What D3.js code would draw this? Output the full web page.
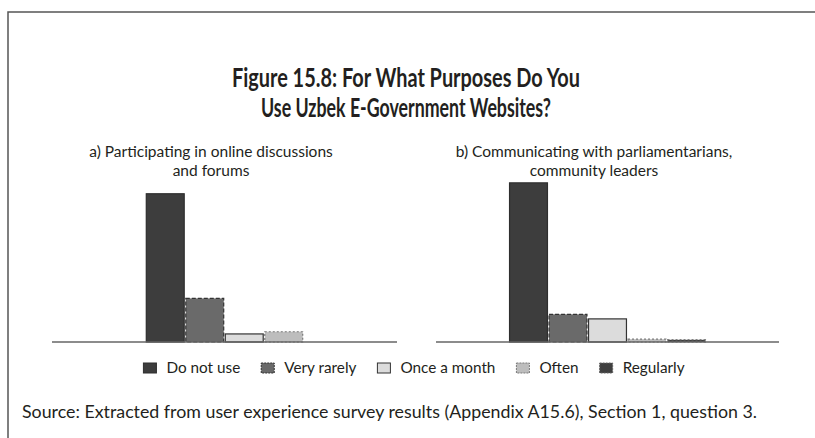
<!doctype html>
<html>
<head>
<meta charset="utf-8"/>
<style>
  html, body { margin: 0; padding: 0; background: #fff; }
  svg { display: block; }
  text { font-family: Lato, "Open Sans", sans-serif; fill: #231f20; }
</style>
<script src="https://d3js.org/d3.v7.min.js"></script>
</head>
<body>
<svg width="815" height="438"></svg>
<script>
  // categories / series
  var categories = ["Do not use", "Very rarely", "Once a month", "Often", "Regularly"];
  var panelTitles = [
    ["a) Participating in online discussions", "and forums"],
    ["b) Communicating with parliamentarians,", "community leaders"]
  ];
  // share of respondents (%)
  var valuesA = [68, 20, 3.7, 4.7];
  var valuesB = [73, 12.7, 10.6, 1.3, 1.0];

  var fills   = ["#3d3d3d", "#6a6a6a", "#dcdcdc", "#bdbdbd", "#3f3f3f"];
  var strokes = ["#2e2e2e", "#333333", "#333333", "#7a7a7a", "#666666"];
  var dashes  = [null, "4,2", null, "2,2", "2,2"];

  var svg = d3.select("svg");

  // frame
  svg.append("path")
      .attr("d", "M8,438V12H815")
      .attr("fill", "none")
      .attr("stroke", "#555")
      .attr("stroke-width", 1.5);

  // title
  var title = svg.append("g").attr("font-weight", "bold").attr("text-anchor", "middle");
  title.append("text").attr("x", 406).attr("y", 87).attr("font-size", 26)
      .attr("textLength", 348).attr("lengthAdjust", "spacingAndGlyphs")
      .text("Figure 15.8: For What Purposes Do You");
  title.append("text").attr("x", 406).attr("y", 117).attr("font-size", 26)
      .attr("textLength", 290).attr("lengthAdjust", "spacingAndGlyphs")
      .text("Use Uzbek E-Government Websites?");

  var y = d3.scaleLinear().domain([0, 100]).range([342, 124]);
  var step = 39.5;

  var panels = [
    {values: valuesA, range: [52, 397], labelX: 211, lines: panelTitles[0]},
    {values: valuesB, range: [436, 779], labelX: 594, lines: panelTitles[1]}
  ];

  panels.forEach(function(p) {
    var g = svg.append("g");
    var cats = categories.slice(0, p.values.length);
    var center = (p.range[0] + p.range[1]) / 2;
    var x = d3.scaleBand().domain(cats)
        .range([center - cats.length * step / 2, center + cats.length * step / 2])
        .paddingInner(0.04).paddingOuter(0.02);

    g.selectAll("text.sub").data(p.lines).enter().append("text")
        .attr("class", "sub")
        .attr("x", p.labelX)
        .attr("y", function(d, i) { return 157 + i * 19; })
        .attr("text-anchor", "middle")
        .attr("font-size", 15.5)
        .text(function(d) { return d; });

    g.selectAll("rect").data(p.values).enter().append("rect")
        .attr("x", function(d, i) { return x(cats[i]); })
        .attr("width", x.bandwidth())
        .attr("y", function(d) { return y(d); })
        .attr("height", function(d) { return y(0) - y(d); })
        .attr("fill", function(d, i) { return fills[i]; })
        .attr("stroke", function(d, i) { return strokes[i]; })
        .attr("stroke-width", 1.2)
        .attr("stroke-dasharray", function(d, i) { return dashes[i]; });

    g.append("line")
        .attr("x1", p.range[0]).attr("x2", p.range[1])
        .attr("y1", y(0)).attr("y2", y(0))
        .attr("stroke", "#666")
        .attr("stroke-width", 1.5);
  });

  // legend
  var legend = svg.append("g");
  var lx = 0;
  categories.forEach(function(c, i) {
    var item = legend.append("g").attr("transform", "translate(" + lx + ",0)");
    item.append("rect")
        .attr("x", 0).attr("y", 363).attr("width", 13).attr("height", 10)
        .attr("fill", fills[i])
        .attr("stroke", strokes[i])
        .attr("stroke-width", 1)
        .attr("stroke-dasharray", dashes[i] ? "2,1" : null);
    var t = item.append("text")
        .attr("x", 23).attr("y", 373)
        .attr("font-size", 15.3)
        .text(c);
    lx += 23 + t.node().getComputedTextLength() + 21;
  });
  var lw = lx - 21;
  legend.attr("transform", "translate(" + (414 - lw / 2) + ",0)");

  // source
  svg.append("text")
      .attr("x", 22).attr("y", 418)
      .attr("font-size", 16.5)
      .attr("textLength", 735).attr("lengthAdjust", "spacingAndGlyphs")
      .text("Source: Extracted from user experience survey results (Appendix A15.6), Section 1, question 3.");
</script>
</body>
</html>
